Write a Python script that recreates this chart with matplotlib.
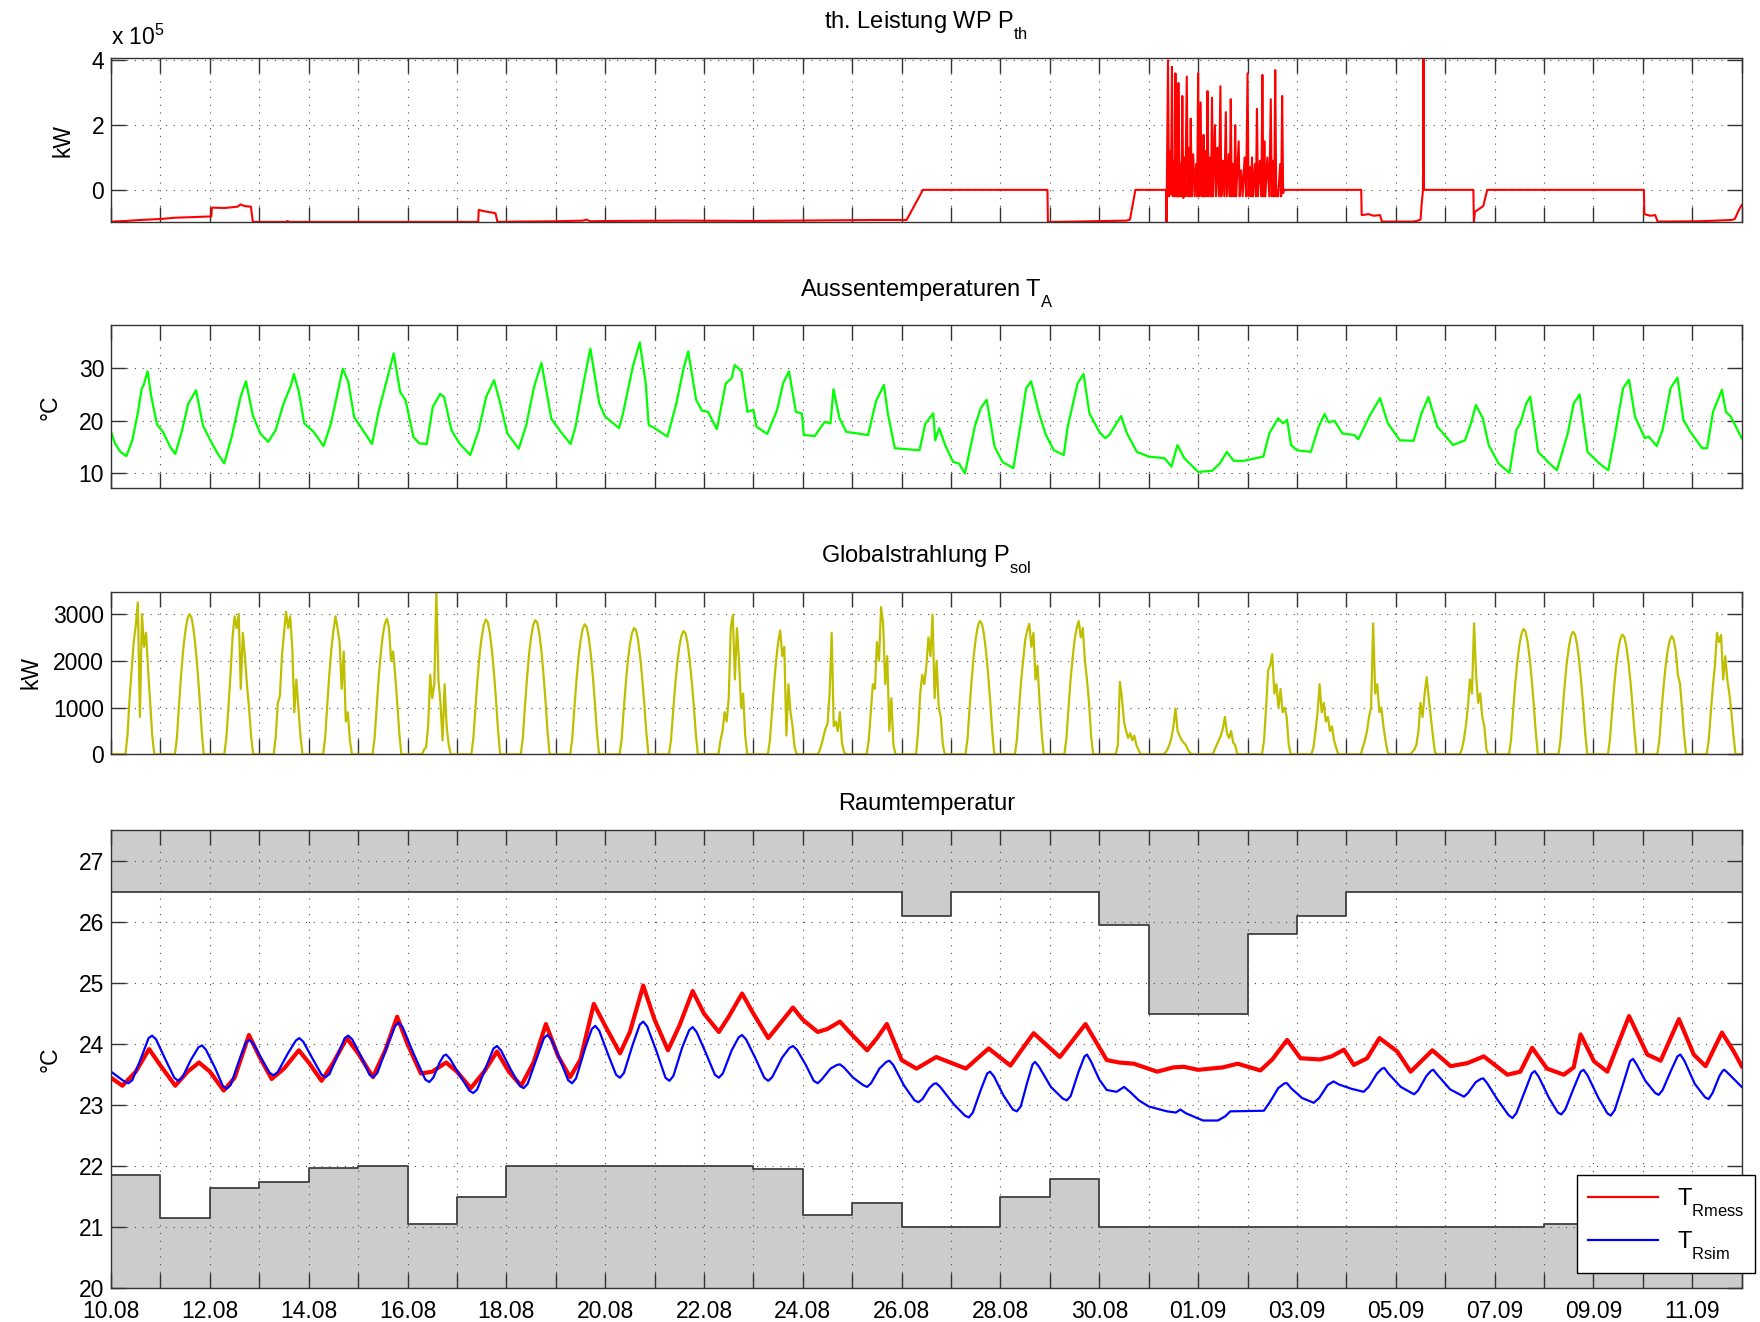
import datetime as dt

import matplotlib._mathtext as mathtext_consts
import matplotlib.pyplot as plt
import numpy as np
from matplotlib.lines import Line2D

plt.rcParams["font.family"] = ["Liberation Sans", "DejaVu Sans"]
plt.rcParams["mathtext.fontset"] = "custom"
plt.rcParams["mathtext.rm"] = "Liberation Sans"
plt.rcParams["mathtext.it"] = "Liberation Sans:italic"
plt.rcParams["mathtext.bf"] = "Liberation Sans:bold"
# drop subscripts lower, the way MATLAB sets them
mathtext_consts.FontConstantsBase.sub1 = 0.9

start = dt.date(2012, 8, 10)
ndays = 33

# thermal heat pump power, (day, value in 1e5 kW)
pth_pts = [
    (0.00, -0.98), (0.30, -0.96), (0.60, -0.93), (1.00, -0.90), (1.30, -0.86),
    (1.70, -0.84), (2.03, -0.82), (2.04, -0.55), (2.30, -0.56), (2.56, -0.52),
    (2.62, -0.45), (2.70, -0.50), (2.83, -0.52), (2.87, -0.99), (3.55, -0.99),
    (3.57, -0.96), (3.60, -0.99), (7.43, -0.99), (7.44, -0.62), (7.55, -0.66),
    (7.78, -0.72), (7.82, -0.99), (8.20, -0.98), (9.00, -0.97), (9.55, -0.95),
    (9.62, -0.92), (9.70, -0.97), (10.20, -0.96), (11.50, -0.95), (13.00, -0.96),
    (14.50, -0.94), (15.50, -0.93), (16.00, -0.93), (16.10, -0.93), (16.43, 0.0),
    (18.95, 0.0), (18.96, -0.99), (19.50, -0.98), (20.55, -0.95), (20.62, -0.92),
    (20.73, 0.0), (21.35, 0.0), (21.36, -1.0), (21.39, 4.0), (21.41, -0.2),
    (21.43, 1.2), (21.45, -0.15), (21.47, 3.8), (21.49, -0.2), (21.515, 0.9),
    (21.53, -0.2), (21.54, 3.6), (21.56, -0.2), (21.58, 1.5), (21.59, -0.2),
    (21.60, 3.3), (21.62, -0.2), (21.645, 0.8), (21.66, -0.2), (21.68, 2.9),
    (21.70, -0.25), (21.72, 1.0), (21.74, -0.2), (21.77, 3.5), (21.79, -0.2),
    (21.81, 1.3), (21.83, -0.2), (21.85, 2.2), (21.87, -0.2), (21.90, 1.1),
    (21.93, -0.2), (21.96, 0.8), (21.98, -0.2), (22.00, 3.6), (22.02, -0.2),
    (22.05, 2.7), (22.07, -0.2), (22.09, 0.9), (22.10, -0.2), (22.11, 1.7),
    (22.13, -0.2), (22.16, 1.2), (22.17, -0.2), (22.19, 3.05), (22.21, -0.2),
    (22.24, 1.0), (22.26, -0.2), (22.28, 2.85), (22.30, -0.2), (22.34, 2.0),
    (22.36, -0.2), (22.39, 1.3), (22.42, -0.2), (22.45, 3.2), (22.47, -0.2),
    (22.50, 0.9), (22.53, -0.2), (22.56, 2.4), (22.58, -0.2), (22.62, 1.1),
    (22.64, -0.2), (22.66, 2.8), (22.68, -0.2), (22.71, 0.8), (22.73, -0.2),
    (22.75, 2.0), (22.77, -0.2), (22.82, 1.5), (22.84, -0.2), (22.87, 0.6),
    (22.90, -0.2), (22.94, 1.0), (22.97, -0.2), (23.00, 3.6), (23.02, -0.2),
    (23.05, 0.7), (23.07, -0.2), (23.09, 1.0), (23.11, -0.2), (23.15, 0.8),
    (23.17, -0.2), (23.19, 2.5), (23.21, -0.2), (23.25, 0.9), (23.28, -0.2),
    (23.30, 3.55), (23.32, -0.2), (23.34, 1.5), (23.36, -0.2), (23.40, 1.0),
    (23.44, -0.2), (23.47, 2.8), (23.49, -0.2), (23.52, 0.9), (23.54, -0.2),
    (23.56, 3.7), (23.58, -0.2), (23.60, 0.0), (23.62, -0.2), (23.66, 0.8),
    (23.68, -0.2), (23.70, 2.9), (23.72, -0.1), (23.74, 0.0), (25.30, 0.0),
    (25.31, -0.78), (25.45, -0.75), (25.55, -0.80), (25.68, -0.78), (25.72, -0.98),
    (26.35, -0.98), (26.45, -0.95), (26.50, -0.92), (26.52, -0.5), (26.55, 0.0),
    (26.56, 4.4), (26.57, 0.0), (27.57, 0.0), (27.58, -1.0), (27.60, -0.68),
    (27.77, -0.5), (27.85, 0.0), (31.02, 0.0), (31.03, -0.75), (31.15, -0.80),
    (31.25, -0.78), (31.30, -0.98), (32.15, -0.97), (32.50, -0.95), (32.80, -0.93),
    (32.86, -0.90), (32.95, -0.60), (33.00, -0.47),
]

# outdoor temperature, (day, degC)
ta_pts = [
    (0.00, 17.9), (0.08, 15.7), (0.19, 14.1), (0.31, 13.3), (0.43, 16.3), (0.54, 21.4),
    (0.62, 26.1), (0.66, 26.8), (0.74, 29.4), (0.81, 24.8), (0.93, 19.3), (1.05, 17.9),
    (1.20, 15.0), (1.30, 13.7), (1.43, 17.9), (1.56, 23.2), (1.72, 25.8), (1.86, 19.1),
    (2.01, 16.3), (2.15, 13.9), (2.29, 11.9), (2.44, 16.9), (2.62, 24.5), (2.73, 27.5),
    (2.87, 21.0), (3.02, 17.6), (3.18, 16.0), (3.33, 18.2), (3.49, 23.2), (3.64, 26.7),
    (3.70, 28.9), (3.80, 25.5), (3.91, 19.5), (4.10, 17.9), (4.30, 15.2), (4.45, 19.5),
    (4.61, 26.4), (4.69, 29.9), (4.80, 27.4), (4.92, 20.7), (5.07, 18.6), (5.28, 15.6),
    (5.42, 22.0), (5.58, 27.7), (5.72, 32.8), (5.85, 25.5), (5.96, 23.9), (6.12, 16.9),
    (6.24, 15.7), (6.39, 15.6), (6.51, 22.6), (6.66, 25.1), (6.74, 24.5), (6.89, 18.2),
    (7.05, 15.7), (7.27, 13.5), (7.44, 18.2), (7.59, 24.5), (7.75, 27.7), (7.86, 23.9),
    (8.02, 17.6), (8.25, 14.7), (8.40, 19.1), (8.56, 26.4), (8.71, 31.0), (8.91, 20.4),
    (9.10, 17.9), (9.30, 15.6), (9.40, 18.9), (9.56, 27.1), (9.70, 33.7), (9.88, 23.3),
    (10.00, 20.8), (10.28, 18.6), (10.36, 21.4), (10.56, 30.3), (10.70, 34.9), (10.82, 27.1),
    (10.88, 19.2), (11.00, 18.6), (11.26, 17.0), (11.44, 23.3), (11.58, 29.7), (11.68, 33.2),
    (11.84, 24.0), (11.96, 21.9), (12.08, 21.7), (12.26, 18.4), (12.44, 27.1), (12.56, 28.1),
    (12.62, 30.6), (12.76, 29.4), (12.88, 21.7), (13.00, 22.1), (13.06, 18.9), (13.28, 17.5),
    (13.48, 22.1), (13.60, 27.1), (13.72, 29.4), (13.86, 21.7), (13.98, 21.4), (14.02, 17.3),
    (14.24, 17.1), (14.44, 19.8), (14.56, 19.5), (14.62, 26.0), (14.74, 20.5), (14.88, 17.9),
    (15.32, 17.3), (15.48, 23.7), (15.64, 26.8), (15.72, 21.4), (15.86, 14.8), (16.36, 14.4),
    (16.48, 19.5), (16.64, 21.4), (16.68, 16.3), (16.76, 18.6), (16.88, 15.4), (17.04, 12.2),
    (17.16, 11.9), (17.28, 10.0), (17.48, 18.9), (17.60, 22.4), (17.72, 24.0), (17.88, 15.1),
    (18.04, 12.2), (18.26, 11.0), (18.40, 18.9), (18.52, 26.2), (18.62, 27.5), (18.78, 21.4),
    (18.92, 17.3), (19.08, 14.4), (19.28, 13.5), (19.36, 18.9), (19.56, 27.1), (19.68, 28.9),
    (19.80, 21.4), (20.00, 17.9), (20.12, 16.7), (20.20, 17.3), (20.44, 20.9), (20.56, 17.6),
    (20.76, 14.1), (21.00, 13.2), (21.32, 12.9), (21.46, 11.3), (21.58, 15.4), (21.72, 12.9),
    (22.00, 10.3), (22.28, 10.5), (22.44, 11.9), (22.58, 14.1), (22.72, 12.4), (22.92, 12.4),
    (23.32, 13.2), (23.44, 17.6), (23.62, 20.5), (23.72, 19.5), (23.80, 20.2), (23.88, 15.4),
    (24.00, 14.4), (24.28, 14.1), (24.44, 18.9), (24.56, 21.3), (24.64, 19.7), (24.76, 20.0),
    (24.92, 17.6), (25.16, 17.3), (25.24, 16.5), (25.48, 21.1), (25.68, 24.3), (25.84, 19.5),
    (26.08, 16.3), (26.36, 16.2), (26.52, 21.4), (26.66, 24.5), (26.84, 18.9), (27.16, 15.4),
    (27.40, 16.3), (27.52, 19.5), (27.62, 23.0), (27.76, 20.5), (27.88, 15.4), (28.08, 11.9),
    (28.30, 10.1), (28.44, 18.3), (28.52, 19.5), (28.64, 23.3), (28.72, 24.6), (28.88, 14.1),
    (29.08, 12.2), (29.26, 10.6), (29.48, 17.6), (29.60, 23.3), (29.72, 25.0), (29.88, 14.1),
    (30.12, 11.9), (30.30, 10.6), (30.44, 17.6), (30.60, 26.2), (30.72, 27.8), (30.84, 20.8),
    (31.04, 16.7), (31.12, 17.0), (31.28, 15.2), (31.40, 18.3), (31.56, 26.2), (31.70, 28.2),
    (31.82, 20.2), (31.96, 17.9), (32.20, 14.8), (32.30, 14.8), (32.42, 21.7), (32.60, 25.9),
    (32.68, 21.7), (32.78, 20.8), (33.00, 16.7),
]

# global radiation, hourly values 07:00..21:00 for each day
sol_hours = list(range(7, 22))
sol_kw = [
    [0, 420, 1200, 1800, 2400, 2750, 3250, 800, 3000, 2300, 2600, 1800, 1100, 400, 0],
    [0, 360, 1050, 1680, 2220, 2610, 2880, 3000, 2940, 2700, 2310, 1800, 1200, 510, 0],
    [0, 350, 1000, 1700, 2500, 2950, 2700, 3000, 1400, 2600, 2100, 1500, 1000, 400, 0],
    [0, 380, 1100, 1250, 2100, 2600, 3050, 2700, 2950, 2300, 900, 1600, 1000, 380, 0],
    [0, 360, 1050, 1700, 2250, 2650, 2950, 2700, 2400, 1400, 2200, 700, 900, 300, 0],
    [0, 350, 1000, 1650, 2150, 2550, 2800, 2900, 2700, 2000, 2200, 1700, 1100, 450, 0],
    [0, 100, 150, 600, 1700, 1200, 1500, 3480, 1600, 1100, 300, 1500, 600, 200, 0],
    [0, 350, 1010, 1610, 2130, 2500, 2760, 2880, 2820, 2590, 2220, 1730, 1150, 490, 0],
    [0, 350, 1010, 1610, 2130, 2500, 2760, 2870, 2820, 2590, 2220, 1730, 1150, 490, 0],
    [0, 330, 970, 1560, 2060, 2420, 2670, 2780, 2720, 2500, 2140, 1670, 1110, 470, 0],
    [0, 320, 950, 1510, 2000, 2350, 2590, 2700, 2650, 2430, 2080, 1620, 1080, 460, 0],
    [0, 320, 920, 1480, 1950, 2300, 2530, 2640, 2590, 2380, 2030, 1580, 1060, 450, 0],
    [0, 300, 500, 900, 700, 1200, 2700, 2980, 1600, 2700, 2000, 1000, 1300, 400, 0],
    [0, 300, 900, 1500, 2000, 2400, 2650, 2100, 2300, 400, 1500, 900, 600, 150, 0],
    [0, 60, 200, 380, 550, 650, 1300, 2600, 600, 700, 500, 900, 250, 50, 0],
    [0, 300, 900, 1500, 1400, 2400, 2000, 3150, 2800, 1500, 2100, 500, 1200, 200, 0],
    [0, 500, 1300, 1700, 1500, 1900, 2500, 2100, 2990, 1200, 2000, 1000, 800, 200, 0],
    [0, 340, 1000, 1600, 2110, 2480, 2740, 2850, 2790, 2560, 2190, 1710, 1140, 480, 0],
    [0, 330, 970, 1560, 2000, 2450, 2650, 2790, 2300, 2600, 1600, 1900, 1100, 450, 0],
    [0, 330, 980, 1580, 2050, 2450, 2700, 2850, 2500, 2700, 2000, 1600, 1100, 400, 0],
    [0, 0, 200, 1550, 1200, 700, 500, 350, 450, 300, 400, 200, 100, 0, 0],
    [0, 30, 100, 200, 350, 600, 980, 500, 400, 300, 250, 200, 100, 30, 0],
    [0, 100, 200, 300, 400, 550, 800, 450, 350, 500, 250, 200, 0, 0, 0],
    [0, 300, 1000, 1800, 1900, 2140, 1300, 1500, 1000, 1400, 900, 1000, 800, 200, 0],
    [0, 150, 500, 900, 1500, 900, 1100, 700, 800, 500, 600, 300, 150, 0, 0],
    [0, 150, 300, 500, 800, 1000, 2800, 1300, 1500, 900, 1000, 600, 300, 50, 0],
    [0, 50, 100, 200, 500, 1100, 800, 1300, 1650, 1200, 800, 400, 50, 0, 0],
    [0, 100, 300, 600, 1000, 1600, 1300, 2800, 1700, 1100, 1300, 800, 600, 100, 0],
    [0, 320, 940, 1500, 1980, 2330, 2570, 2680, 2630, 2410, 2060, 1610, 1070, 460, 0],
    [0, 310, 920, 1470, 1940, 2280, 2520, 2620, 2570, 2360, 2020, 1570, 1050, 450, 0],
    [0, 310, 900, 1430, 1890, 2230, 2460, 2560, 2510, 2300, 1970, 1540, 1020, 440, 0],
    [0, 300, 890, 1420, 1870, 2200, 2430, 2530, 2450, 2200, 1700, 1520, 1000, 430, 0],
    [0, 310, 900, 1450, 1900, 2600, 2400, 2550, 1600, 2100, 1600, 1300, 900, 400, 0],
]

# measured room temperature, (day, degC)
trm_pts = [
    (0.00, 23.45), (0.23, 23.32), (0.50, 23.55), (0.77, 23.92), (1.00, 23.65), (1.30, 23.32),
    (1.55, 23.55), (1.78, 23.70), (2.00, 23.55), (2.28, 23.24), (2.50, 23.45), (2.79, 24.15),
    (3.00, 23.80), (3.25, 23.43), (3.50, 23.60), (3.80, 23.90), (4.00, 23.70), (4.26, 23.40),
    (4.50, 23.70), (4.77, 24.10), (5.00, 23.85), (5.30, 23.46), (5.55, 23.90), (5.79, 24.45),
    (6.00, 24.00), (6.27, 23.52), (6.50, 23.55), (6.78, 23.70), (7.00, 23.55), (7.28, 23.28),
    (7.55, 23.55), (7.81, 23.88), (8.05, 23.55), (8.30, 23.32), (8.55, 23.70), (8.80, 24.33),
    (9.05, 23.80), (9.29, 23.46), (9.50, 23.75), (9.77, 24.66), (10.00, 24.30), (10.30, 23.85),
    (10.50, 24.20), (10.77, 24.96), (11.00, 24.40), (11.27, 23.90), (11.50, 24.30), (11.77, 24.87),
    (12.00, 24.50), (12.30, 24.20), (12.50, 24.45), (12.77, 24.83), (13.00, 24.50), (13.30, 24.10),
    (13.50, 24.30), (13.80, 24.60), (14.00, 24.40), (14.30, 24.20), (14.50, 24.25), (14.75, 24.37),
    (15.00, 24.15), (15.30, 23.90), (15.50, 24.10), (15.70, 24.33), (16.00, 23.74), (16.30, 23.60),
    (16.70, 23.79), (17.30, 23.60), (17.76, 23.93), (18.20, 23.65), (18.67, 24.18), (19.20, 23.79),
    (19.72, 24.33), (20.15, 23.74), (20.40, 23.70), (20.70, 23.68), (21.17, 23.55), (21.50, 23.62),
    (21.71, 23.63), (22.00, 23.58), (22.25, 23.60), (22.50, 23.62), (22.80, 23.68), (23.26, 23.57),
    (23.50, 23.75), (23.80, 24.07), (24.07, 23.77), (24.47, 23.75), (24.70, 23.80), (24.95, 23.91),
    (25.15, 23.66), (25.42, 23.77), (25.67, 24.10), (26.03, 23.88), (26.30, 23.55), (26.74, 23.90),
    (27.11, 23.64), (27.45, 23.69), (27.78, 23.80), (28.26, 23.50), (28.52, 23.55), (28.76, 23.94),
    (29.06, 23.60), (29.40, 23.50), (29.60, 23.62), (29.74, 24.16), (30.01, 23.72), (30.28, 23.55),
    (30.72, 24.46), (31.09, 23.83), (31.36, 23.73), (31.73, 24.41), (32.03, 23.83), (32.27, 23.64),
    (32.60, 24.19), (32.84, 23.88), (33.00, 23.64),
]

# simulated room temperature, (day, degC)
trs_pts = [
    (0.00, 23.55), (0.25, 23.40), (0.35, 23.36), (0.43, 23.41), (0.62, 23.80), (0.76, 24.10),
    (0.83, 24.14), (0.91, 24.08), (1.10, 23.75), (1.28, 23.45), (1.36, 23.40), (1.44, 23.45),
    (1.62, 23.75), (1.77, 23.95), (1.84, 23.98), (1.92, 23.91), (2.10, 23.62), (2.26, 23.32),
    (2.34, 23.27), (2.42, 23.33), (2.60, 23.75), (2.73, 24.03), (2.80, 24.07), (2.88, 24.01),
    (3.05, 23.75), (3.21, 23.53), (3.29, 23.49), (3.37, 23.54), (3.58, 23.85), (3.74, 24.06),
    (3.81, 24.10), (3.89, 24.04), (4.08, 23.76), (4.26, 23.50), (4.34, 23.46), (4.42, 23.51),
    (4.60, 23.85), (4.73, 24.10), (4.80, 24.14), (4.88, 24.08), (5.06, 23.80), (5.23, 23.50),
    (5.31, 23.46), (5.39, 23.53), (5.60, 24.00), (5.75, 24.30), (5.82, 24.35), (5.90, 24.28),
    (6.12, 23.85), (6.36, 23.42), (6.44, 23.38), (6.52, 23.45), (6.65, 23.70), (6.73, 23.81),
    (6.78, 23.83), (6.86, 23.76), (7.05, 23.50), (7.25, 23.24), (7.33, 23.20), (7.41, 23.26),
    (7.60, 23.65), (7.74, 23.93), (7.81, 23.97), (7.89, 23.90), (8.08, 23.60), (8.27, 23.32),
    (8.35, 23.28), (8.43, 23.35), (8.62, 23.78), (8.76, 24.10), (8.83, 24.15), (8.91, 24.08),
    (9.10, 23.72), (9.25, 23.41), (9.33, 23.36), (9.41, 23.44), (9.60, 23.95), (9.73, 24.25),
    (9.80, 24.30), (9.88, 24.22), (10.05, 23.85), (10.22, 23.50), (10.30, 23.45), (10.38, 23.53),
    (10.56, 24.00), (10.70, 24.32), (10.77, 24.37), (10.85, 24.29), (11.04, 23.88), (11.22, 23.45),
    (11.30, 23.40), (11.38, 23.48), (11.56, 23.95), (11.70, 24.23), (11.77, 24.28), (11.85, 24.20),
    (12.04, 23.85), (12.22, 23.50), (12.30, 23.45), (12.38, 23.52), (12.56, 23.90), (12.70, 24.11),
    (12.77, 24.15), (12.85, 24.08), (13.04, 23.77), (13.22, 23.45), (13.30, 23.40), (13.38, 23.46),
    (13.58, 23.78), (13.73, 23.94), (13.80, 23.97), (13.88, 23.91), (14.06, 23.66), (14.22, 23.40),
    (14.30, 23.36), (14.38, 23.42), (14.56, 23.60), (14.69, 23.66), (14.75, 23.67), (14.83, 23.62),
    (15.02, 23.45), (15.22, 23.33), (15.30, 23.30), (15.38, 23.36), (15.55, 23.60), (15.69, 23.71),
    (15.75, 23.73), (15.83, 23.66), (16.05, 23.32), (16.26, 23.08), (16.34, 23.05), (16.42, 23.10),
    (16.56, 23.28), (16.65, 23.35), (16.70, 23.36), (16.78, 23.30), (17.05, 23.02), (17.28, 22.83),
    (17.36, 22.80), (17.44, 22.88), (17.60, 23.25), (17.73, 23.52), (17.79, 23.55), (17.87, 23.47),
    (18.06, 23.16), (18.25, 22.93), (18.33, 22.90), (18.41, 22.98), (18.55, 23.40), (18.65, 23.67),
    (18.70, 23.71), (18.78, 23.63), (19.02, 23.30), (19.26, 23.11), (19.34, 23.08), (19.42, 23.15),
    (19.58, 23.55), (19.70, 23.80), (19.75, 23.83), (19.83, 23.72), (20.00, 23.42), (20.15, 23.25),
    (20.35, 23.22), (20.50, 23.30), (20.62, 23.22), (20.80, 23.08), (21.00, 22.98), (21.37, 22.90),
    (21.55, 22.88), (21.64, 22.93), (21.75, 22.87), (21.95, 22.80), (22.10, 22.75), (22.40, 22.75),
    (22.55, 22.82), (22.65, 22.90), (23.33, 22.91), (23.45, 23.05), (23.62, 23.28), (23.75, 23.36),
    (23.80, 23.36), (23.88, 23.28), (24.10, 23.12), (24.34, 23.04), (24.45, 23.12), (24.62, 23.33),
    (24.74, 23.39), (24.85, 23.34), (25.10, 23.27), (25.35, 23.22), (25.45, 23.30), (25.62, 23.52),
    (25.72, 23.60), (25.77, 23.61), (25.85, 23.52), (26.10, 23.30), (26.37, 23.18), (26.45, 23.24),
    (26.62, 23.48), (26.72, 23.57), (26.76, 23.58), (26.84, 23.50), (27.10, 23.26), (27.38, 23.14),
    (27.46, 23.20), (27.62, 23.38), (27.72, 23.43), (27.77, 23.44), (27.85, 23.36), (28.05, 23.10),
    (28.28, 22.84), (28.36, 22.79), (28.44, 22.87), (28.62, 23.25), (28.75, 23.52), (28.81, 23.56),
    (28.89, 23.47), (29.10, 23.12), (29.28, 22.88), (29.35, 22.85), (29.43, 22.93), (29.60, 23.28),
    (29.74, 23.55), (29.80, 23.58), (29.88, 23.49), (30.10, 23.12), (30.28, 22.87), (30.35, 22.83),
    (30.43, 22.92), (30.60, 23.35), (30.74, 23.72), (30.80, 23.76), (30.88, 23.66), (31.05, 23.40),
    (31.25, 23.20), (31.32, 23.17), (31.40, 23.25), (31.56, 23.55), (31.70, 23.80), (31.76, 23.83),
    (31.84, 23.73), (32.05, 23.35), (32.26, 23.13), (32.33, 23.10), (32.41, 23.20), (32.55, 23.48),
    (32.62, 23.57), (32.65, 23.58), (32.73, 23.52), (33.00, 23.30),
]

# comfort band: upper and lower limits, step starts in days
up_days = [0, 16, 17, 20, 21, 23, 24, 25, 33]
up_vals = [26.5, 26.1, 26.5, 25.95, 24.5, 25.8, 26.1, 26.5, 26.5]
lo_days = [0, 1, 2, 3, 4, 5, 6, 7, 8, 13, 14, 15, 16, 18, 19, 20, 29, 33]
lo_vals = [21.85, 21.15, 21.65, 21.75, 21.97, 22.0, 21.05, 21.5, 22.0, 21.95,
           21.2, 21.4, 21.0, 21.5, 21.8, 21.0, 21.05, 21.05]

pth_t, pth_v = np.array(pth_pts).T
ta_t, ta_v = np.array(ta_pts).T
trm_t, trm_v = np.array(trm_pts).T
trs_t, trs_v = np.array(trs_pts).T

sol_t = np.concatenate([[0.0]] + [d + np.array(sol_hours) / 24 for d in range(ndays)] + [[ndays]])
sol_v = np.concatenate([[0.0]] + [np.array(r, float) for r in sol_kw] + [[0.0]])

fs = 16.5
fig = plt.figure(figsize=(17.6, 13.22), dpi=100)
left, width = 0.0631, 0.9265
ax1 = fig.add_axes([left, 0.8319, width, 0.1239])
ax2 = fig.add_axes([left, 0.6307, width, 0.1231])
ax3 = fig.add_axes([left, 0.4294, width, 0.1231])
ax4 = fig.add_axes([left, 0.0254, width, 0.3464])

labels = [(start + dt.timedelta(days=k)).strftime("%d.%m") if k % 2 == 0 else ""
          for k in range(ndays + 1)]

for ax in (ax1, ax2, ax3, ax4):
    ax.set_xlim(0, ndays)
    ax.set_xticks(range(ndays + 1))
    ax.set_xticklabels(labels)
    ax.tick_params(direction="in", length=11, width=1, top=True, right=True,
                   labelsize=fs, color="0.2", pad=5)
    ax.tick_params(axis="x", pad=8)
    ax.grid(True, ls=(0, (1, 6)), lw=0.8, color="0.3")
    for s in ax.spines.values():
        s.set_color("0.2")
        s.set_linewidth(1)
for ax in (ax1, ax2, ax3):
    ax.tick_params(labelbottom=False)

# heat pump power
ax1.plot(pth_t, pth_v * 1e5, color="red", lw=1.5)
ax1.set_ylim(-1.0e5, 4.06e5)
ax1.set_yticks([0, 2e5, 4e5])
ax1.set_yticklabels(["0", "2", "4"])
ax1.set_ylabel("kW", fontsize=fs, labelpad=12)
ax1.set_title(r"th. Leistung WP P$_\mathrm{th}$", fontsize=17, pad=22)
ax1.text(0, 1.05, r"x 10$^5$", transform=ax1.transAxes, fontsize=fs, va="bottom")

# outdoor temperature
ax2.plot(ta_t, ta_v, color="#00ff00", lw=1.6)
ax2.set_ylim(7.2, 38.1)
ax2.set_yticks([10, 20, 30])
ax2.set_ylabel("°C", fontsize=fs, labelpad=12)
ax2.set_title(r"Aussentemperaturen T$_\mathrm{A}$", fontsize=17, pad=21)

# global radiation
ax3.plot(sol_t, sol_v, color="#bfbf00", lw=1.6)
ax3.set_ylim(0, 3480)
ax3.set_yticks([0, 1000, 2000, 3000])
ax3.set_ylabel("kW", fontsize=fs, labelpad=8)
ax3.set_title(r"Globalstrahlung P$_\mathrm{sol}$", fontsize=17, pad=21)

# room temperature with comfort limits
ax4.fill_between(up_days, up_vals, 27.5, step="post", color="#cccccc", lw=0)
ax4.fill_between(lo_days, 20, lo_vals, step="post", color="#cccccc", lw=0)
ax4.step(up_days, up_vals, where="post", color="0.25", lw=1.3)
ax4.step(lo_days, lo_vals, where="post", color="0.25", lw=1.3)
ax4.plot(trm_t, trm_v, color="red", lw=3.0)
ax4.plot(trs_t, trs_v, color="blue", lw=1.6)
ax4.set_ylim(20, 27.5)
ax4.set_yticks(range(20, 28))
ax4.set_ylabel("°C", fontsize=fs, labelpad=12)
ax4.set_title("Raumtemperatur", fontsize=17, pad=15)

handles = [Line2D([], [], color="red", lw=1.6), Line2D([], [], color="blue", lw=1.6)]
leg = fig.legend(handles, [r"T$_\mathrm{Rmess}$", r"T$_\mathrm{Rsim}$"],
                 loc="upper left", bbox_to_anchor=(0.896, 0.111), fontsize=17,
                 frameon=True, fancybox=False, edgecolor="black", framealpha=1,
                 handlelength=3.0, borderaxespad=0, labelspacing=0.45, borderpad=0.45)
leg.get_frame().set_linewidth(1.0)

fig.savefig("out.png", dpi=100)
